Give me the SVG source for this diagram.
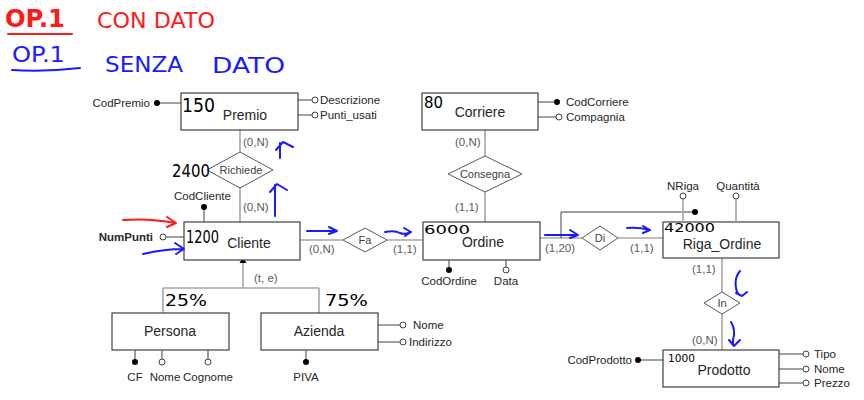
<svg xmlns="http://www.w3.org/2000/svg" width="864" height="400" viewBox="0 0 864 400">
<style>
.box{fill:#fff;stroke:#404040;stroke-width:1.2}
.dia{fill:#fff;stroke:#595959;stroke-width:1}
.ln{stroke:#a6a6a6;stroke-width:1.6;fill:none}
.al{stroke:#404040;stroke-width:1;fill:none}
.ent{font-family:"Liberation Sans",Arial,sans-serif;font-size:14px;fill:#262626;text-anchor:middle}
.rel{font-family:"Liberation Sans",Arial,sans-serif;font-size:11px;fill:#404040;text-anchor:middle}
.att{font-family:"Liberation Sans",Arial,sans-serif;font-size:11.5px;fill:#262626}
.card{font-family:"Liberation Sans",Arial,sans-serif;font-size:11.5px;fill:#595959}
.fd{fill:#000}
.od{fill:#fff;stroke:#404040;stroke-width:1}
.hw{font-family:"DejaVu Sans",sans-serif;fill:#000}
.red{font-family:"DejaVu Sans",sans-serif;fill:#ff1a1a}
.blu{font-family:"DejaVu Sans",sans-serif;fill:#1a1aff}
.ba{stroke:#1a1aff;stroke-width:2;fill:none;stroke-linecap:round;stroke-linejoin:round}
.ra{stroke:#ff1a1a;stroke-width:2;fill:none;stroke-linecap:round;stroke-linejoin:round}
</style>

<g id="annotations-header">
<text class="red" x="5" y="27" font-size="25" font-weight="bold" textLength="60" lengthAdjust="spacingAndGlyphs">OP.1</text>
<path class="ra" d="M8 34 L72 34"/>
<text class="red" x="97" y="28" font-size="22" textLength="118" lengthAdjust="spacingAndGlyphs">CON DATO</text>
<text class="blu" x="12" y="62" font-size="22" textLength="53" lengthAdjust="spacingAndGlyphs">OP.1</text>
<path class="ba" d="M12 70 Q45 72 80 68"/>
<text class="blu" x="105" y="72" font-size="22" textLength="78" lengthAdjust="spacingAndGlyphs">SENZA</text>
<text class="blu" x="212" y="73" font-size="22" textLength="73" lengthAdjust="spacingAndGlyphs">DATO</text>
</g>

<g id="connectors">
<path class="ln" d="M240 130 V152"/>
<path class="ln" d="M240 188 V222"/>
<path class="ln" d="M485 130 V156"/>
<path class="ln" d="M485 192 V222"/>
<path class="ln" d="M300 240 H343"/>
<path class="ln" d="M387 240 H423"/>
<path class="ln" d="M540 238 H582"/>
<path class="ln" d="M618 238 H663"/>
<path class="ln" d="M722 258 V292"/>
<path class="ln" d="M722 314 V350"/>
<path class="ln" d="M243 262 V288 M163 288 H319 M163 288 V313 M319 288 V313"/>
<path d="M243 257 L239.5 263 L246.5 263 Z" fill="#000"/>
<path class="al" d="M561 238 V212 H695"/>
</g>

<g id="premio">
<rect class="box" x="181" y="93" width="117" height="37"/>
<text class="ent" x="245" y="120">Premio</text>
<path class="al" d="M158 103 H181"/>
<circle class="fd" cx="157" cy="103" r="3"/>
<text class="att" x="150" y="107" text-anchor="end">CodPremio</text>
<path class="al" d="M298 100 H312 M298 115 H312"/>
<circle class="od" cx="315" cy="100" r="3"/>
<circle class="od" cx="315" cy="115" r="3"/>
<text class="att" x="320" y="104">Descrizione</text>
<text class="att" x="320" y="119">Punti_usati</text>
<text class="hw" x="182" y="112" font-size="19" textLength="33" lengthAdjust="spacingAndGlyphs">150</text>
</g>

<g id="corriere">
<rect class="box" x="422" y="93" width="116" height="37"/>
<text class="ent" x="480" y="117">Corriere</text>
<path class="al" d="M538 102 H556 M538 117 H556"/>
<circle class="fd" cx="557" cy="102" r="3"/>
<circle class="od" cx="559" cy="117" r="3"/>
<text class="att" x="566" y="106">CodCorriere</text>
<text class="att" x="566" y="121">Compagnia</text>
<text class="hw" x="424" y="108" font-size="15" textLength="19" lengthAdjust="spacingAndGlyphs">80</text>
</g>

<g id="richiede">
<polygon class="dia" points="240,152 273,170 240,188 207,170"/>
<text class="rel" x="241" y="174">Richiede</text>
<text class="card" x="243" y="146">(0,N)</text>
<text class="card" x="243" y="211">(0,N)</text>
<text class="hw" x="172" y="177" font-size="18" textLength="38" lengthAdjust="spacingAndGlyphs">2400</text>
</g>

<g id="consegna">
<polygon class="dia" points="485,156 522,174 485,192 448,174"/>
<text class="rel" x="485" y="178">Consegna</text>
<text class="card" x="455" y="146">(0,N)</text>
<text class="card" x="455" y="211">(1,1)</text>
</g>

<g id="cliente">
<rect class="box" x="184" y="222" width="116" height="38"/>
<text class="ent" x="249" y="248">Cliente</text>
<path class="al" d="M204 207 V222"/>
<circle class="fd" cx="204" cy="207" r="3"/>
<text class="att" x="174" y="200">CodCliente</text>
<path class="al" d="M166 237 H184"/>
<circle class="od" cx="163" cy="237" r="3"/>
<text class="att" x="153" y="241" text-anchor="end" font-weight="bold" font-size="11">NumPunti</text>
<text class="hw" x="186" y="243" font-size="17" textLength="33" lengthAdjust="spacingAndGlyphs">1200</text>
</g>

<g id="fa">
<polygon class="dia" points="365,228 387,240 365,252 343,240"/>
<text class="rel" x="365" y="244">Fa</text>
<text class="card" x="309" y="253">(0,N)</text>
<text class="card" x="393" y="253">(1,1)</text>
</g>

<g id="ordine">
<rect class="box" x="423" y="222" width="117" height="38"/>
<text class="ent" x="483" y="247">Ordine</text>
<path class="al" d="M449 260 V270 M506 260 V267"/>
<circle class="fd" cx="449" cy="270" r="3"/>
<circle class="od" cx="506" cy="270" r="3"/>
<text class="att" x="449" y="285" text-anchor="middle">CodOrdine</text>
<text class="att" x="506" y="285" text-anchor="middle">Data</text>
<text class="hw" x="424" y="234" font-size="13" textLength="46" lengthAdjust="spacingAndGlyphs">6000</text>
</g>

<g id="di">
<polygon class="dia" points="600,226 618,238 600,250 582,238"/>
<text class="rel" x="600" y="242">Di</text>
<text class="card" x="545" y="252">(1,20)</text>
<text class="card" x="630" y="252">(1,1)</text>
</g>

<g id="riga_ordine">
<rect class="box" x="663" y="222" width="116" height="36"/>
<text class="ent" x="722" y="249">Riga_Ordine</text>
<path class="ln" d="M683 199 V222 M736 199 V222"/>
<circle class="od" cx="683" cy="196" r="3"/>
<circle class="od" cx="736" cy="196" r="3"/>
<circle class="fd" cx="695" cy="212" r="3"/>
<text class="att" x="683" y="190" text-anchor="middle">NRiga</text>
<text class="att" x="738" y="190" text-anchor="middle">Quantità</text>
<text class="hw" x="664" y="232" font-size="12" textLength="51" lengthAdjust="spacingAndGlyphs">42000</text>
<text class="card" x="692" y="273">(1,1)</text>
</g>

<g id="in">
<polygon class="dia" points="722,292 740,303 722,314 704,303"/>
<text class="rel" x="722" y="307">In</text>
<text class="card" x="692" y="344">(0,N)</text>
</g>

<g id="prodotto">
<rect class="box" x="663" y="350" width="116" height="37"/>
<text class="ent" x="724" y="375">Prodotto</text>
<path class="al" d="M641 360 H663"/>
<circle class="fd" cx="638" cy="360" r="3"/>
<text class="att" x="632" y="364" text-anchor="end">CodProdotto</text>
<path class="al" d="M779 354 H803 M779 369 H803 M779 383 H803"/>
<circle class="od" cx="806" cy="354" r="3"/>
<circle class="od" cx="806" cy="369" r="3"/>
<circle class="od" cx="806" cy="383" r="3"/>
<text class="att" x="814" y="358">Tipo</text>
<text class="att" x="814" y="373">Nome</text>
<text class="att" x="814" y="387">Prezzo</text>
<text class="hw" x="668" y="362" font-size="11" textLength="27" lengthAdjust="spacingAndGlyphs">1000</text>
</g>

<g id="gen-label">
<text class="card" x="254" y="282">(t, e)</text>
</g>

<g id="persona">
<rect class="box" x="112" y="313" width="117" height="37"/>
<text class="ent" x="170" y="336">Persona</text>
<path class="al" d="M135 350 V362 M162 350 V359 M208 350 V359"/>
<circle class="fd" cx="135" cy="362" r="3"/>
<circle class="od" cx="162" cy="362" r="3"/>
<circle class="od" cx="208" cy="362" r="3"/>
<text class="att" x="135" y="381" text-anchor="middle">CF</text>
<text class="att" x="165" y="381" text-anchor="middle">Nome</text>
<text class="att" x="208" y="381" text-anchor="middle">Cognome</text>
<text class="hw" x="165" y="306" font-size="15" textLength="42" lengthAdjust="spacingAndGlyphs">25%</text>
</g>

<g id="azienda">
<rect class="box" x="261" y="313" width="117" height="37"/>
<text class="ent" x="319" y="336">Azienda</text>
<path class="al" d="M306 350 V362"/>
<circle class="fd" cx="306" cy="362" r="3"/>
<text class="att" x="306" y="381" text-anchor="middle">PIVA</text>
<path class="al" d="M378 325 H400 M378 342 H400"/>
<circle class="od" cx="403" cy="325" r="3"/>
<circle class="od" cx="403" cy="342" r="3"/>
<text class="att" x="413" y="329">Nome</text>
<text class="att" x="409" y="346">Indirizzo</text>
<text class="hw" x="325" y="306" font-size="15" textLength="43" lengthAdjust="spacingAndGlyphs">75%</text>
</g>

<g id="pen-arrows">
<path class="ba" d="M280 158 V143 M276 150 L283 142 L293 147"/>
<path class="ba" d="M275 216 V185 M270 192 L277 184 L287 190"/>
<path class="ra" d="M123 220 Q150 218 175 223 M167 217 L176 223 L167 227"/>
<path class="ba" d="M143 254 Q165 249 183 249 M175 243 L184 249 L176 254"/>
<path class="ba" d="M307 231 H337 M329 227 L337 231 L329 234"/>
<path class="ba" d="M385 232 Q395 230 400 233 Q405 235 410 232 M404 228 L411 232 L405 236"/>
<path class="ba" d="M545 235 H578 M570 230 L578 235 L570 238"/>
<path class="ba" d="M627 228 Q638 227 650 230 M643 226 L650 230 L643 233"/>
<path class="ba" d="M740 271 Q734 278 736 288 Q737 295 742 296 M736 293 L742 296 L747 292"/>
<path class="ba" d="M731 322 Q736 330 733 340 L733 345 M729 340 L734 346 L740 340"/>
</g>
</svg>
